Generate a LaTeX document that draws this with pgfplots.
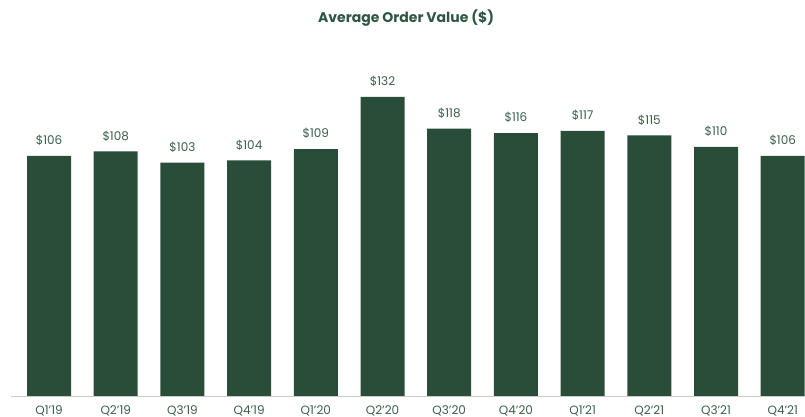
\documentclass[border=0pt]{standalone}
\usepackage{pgfplots}
\pgfplotsset{compat=1.18}
\usepackage{fontspec}
\setmainfont{Poppins}
\definecolor{bargreen}{HTML}{2A4D3A}
\definecolor{labgreen}{HTML}{3A5E4A}
\definecolor{titgreen}{HTML}{2F5642}
\begin{document}
\begin{tikzpicture}
\begin{axis}[
  scale only axis,
  width=794pt, height=396pt,
  xmin=-0.57, xmax=11.334,
  ymin=0, ymax=174.8,
  axis y line=none,
  axis x line*=bottom,
  x axis line style={draw=black!20, line width=0.8pt, -},
  xtick={0,1,2,3,4,5,6,7,8,9,10,11},
  xticklabels={Q1'19,Q2'19,Q3'19,Q4'19,Q1'20,Q2'20,Q3'20,Q4'20,Q1'21,Q2'21,Q3'21,Q4'21},
  major tick length=0pt,
  xticklabel style={font=\fontsize{12}{14}\selectfont, text=labgreen, inner sep=0pt, anchor=north, yshift=-9pt},
  /pgf/number format/assume math mode=true,
  ybar, bar width=44pt,
  nodes near coords={\$\pgfmathprintnumber{\pgfplotspointmeta}},
  every node near coord/.append style={font=\fontsize{12}{14}\selectfont, text=labgreen, anchor=south, inner sep=0pt, yshift=10pt},
  title={Average Order Value (\$)},
  title style={font=\bfseries\fontsize{14}{16}\selectfont, text=titgreen, anchor=base, yshift=-6pt, at={(0.4975,0.942)}, inner sep=0pt},
  clip=false,
]
\addplot[fill=bargreen, draw=none] coordinates {
(0,106) (1,108) (2,103) (3,104) (4,109) (5,132) (6,118) (7,116) (8,117) (9,115) (10,110) (11,106)
};
\end{axis}
\pgfresetboundingbox
\useasboundingbox (-11pt,-21pt) rectangle (794pt,396pt);
\end{tikzpicture}
\end{document}
